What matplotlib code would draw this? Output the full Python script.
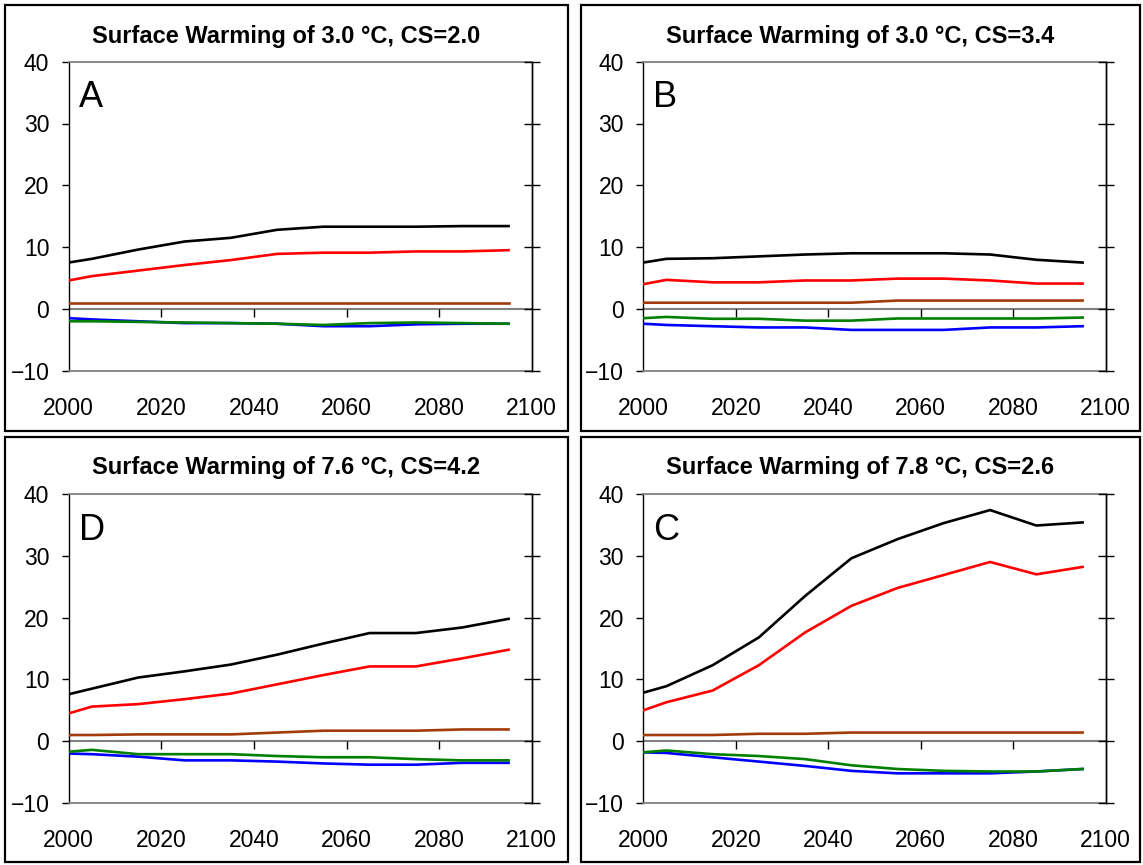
import matplotlib
matplotlib.use('Agg')
import matplotlib.pyplot as plt
from matplotlib.patches import Rectangle
import numpy as np

plt.rcParams['font.family'] = ['Liberation Sans', 'DejaVu Sans']

years = [2000, 2005, 2015, 2025, 2035, 2045, 2055, 2065, 2075, 2085, 2095]

# panel A: 3.0 C, CS=2.0
a_black = [7.5, 8.1, 9.6, 10.9, 11.5, 12.8, 13.3, 13.3, 13.3, 13.4, 13.4]
a_red = [4.6, 5.3, 6.2, 7.1, 7.9, 8.9, 9.1, 9.1, 9.3, 9.3, 9.5]
a_brown = [0.9, 0.9, 0.9, 0.9, 0.9, 0.9, 0.9, 0.9, 0.9, 0.9, 0.9]
a_blue = [-1.5, -1.7, -2.0, -2.3, -2.3, -2.4, -2.8, -2.8, -2.5, -2.4, -2.4]
a_green = [-2.0, -2.0, -2.1, -2.2, -2.3, -2.4, -2.6, -2.3, -2.2, -2.3, -2.4]

# panel B: 3.0 C, CS=3.4
b_black = [7.5, 8.1, 8.2, 8.5, 8.8, 9.0, 9.0, 9.0, 8.8, 7.95, 7.5]
b_red = [4.0, 4.7, 4.3, 4.3, 4.6, 4.6, 4.9, 4.9, 4.6, 4.1, 4.1]
b_brown = [1.0, 1.0, 1.0, 1.0, 1.0, 1.0, 1.35, 1.35, 1.35, 1.35, 1.35]
b_blue = [-2.4, -2.6, -2.8, -3.0, -3.0, -3.4, -3.4, -3.4, -3.0, -3.0, -2.8]
b_green = [-1.5, -1.3, -1.6, -1.6, -1.9, -1.9, -1.55, -1.55, -1.55, -1.55, -1.4]

# panel D: 7.6 C, CS=4.2
d_black = [7.6, 8.5, 10.3, 11.3, 12.4, 14.0, 15.8, 17.5, 17.5, 18.4, 19.8]
d_red = [4.5, 5.6, 6.0, 6.8, 7.7, 9.2, 10.7, 12.1, 12.1, 13.4, 14.8]
d_brown = [1.0, 1.0, 1.1, 1.1, 1.1, 1.4, 1.7, 1.7, 1.7, 1.9, 1.9]
d_blue = [-2.0, -2.1, -2.5, -3.1, -3.1, -3.3, -3.6, -3.8, -3.8, -3.5, -3.5]
d_green = [-1.7, -1.4, -2.1, -2.1, -2.1, -2.4, -2.6, -2.6, -2.9, -3.1, -3.1]

# panel C: 7.8 C, CS=2.6
c_black = [7.85, 8.9, 12.3, 16.8, 23.5, 29.6, 32.7, 35.3, 37.4, 34.9, 35.4]
c_red = [5.0, 6.3, 8.2, 12.3, 17.6, 21.9, 24.8, 26.9, 29.0, 27.0, 28.2]
c_brown = [1.0, 1.0, 1.0, 1.2, 1.2, 1.4, 1.4, 1.4, 1.4, 1.4, 1.4]
c_blue = [-1.8, -1.9, -2.6, -3.3, -4.0, -4.8, -5.2, -5.2, -5.2, -4.9, -4.5]
c_green = [-1.8, -1.5, -2.1, -2.4, -2.9, -3.9, -4.5, -4.8, -4.9, -4.9, -4.5]

titles = ['Surface Warming of 3.0 \u00b0C, CS=2.0', 'Surface Warming of 3.0 \u00b0C, CS=3.4',
          'Surface Warming of 7.6 \u00b0C, CS=4.2', 'Surface Warming of 7.8 \u00b0C, CS=2.6']
letters = ['A', 'B', 'D', 'C']
series = [(a_black, a_red, a_brown, a_blue, a_green),
          (b_black, b_red, b_brown, b_blue, b_green),
          (d_black, d_red, d_brown, d_blue, d_green),
          (c_black, c_red, c_brown, c_blue, c_green)]
colors = ['black', '#ff0000', '#a33a0a', '#0000ff', '#008000']

W, H = 1143, 865
fig = plt.figure(figsize=(W / 100, H / 100), dpi=100)

# pixel boxes (left, top, right, bottom) for frames and axes
frames = [(5, 5, 568, 431), (581, 5, 1140, 431), (5, 437, 568, 862), (581, 437, 1140, 862)]
axboxes = [(68.7, 61.7, 531.7, 370.7), (643.3, 61.7, 1105.7, 370.7),
           (68.7, 494, 531.7, 803), (643.3, 494, 1105.7, 803)]

for i in range(4):
    l, t, r, b = frames[i]
    fig.patches.append(Rectangle((l / W, 1 - b / H), (r - l) / W, (b - t) / H,
                                 transform=fig.transFigure, fill=False,
                                 edgecolor='black', linewidth=1.6))
    fig.text((l + r) / 2 / W, 1 - (t + 31) / H, titles[i], ha='center', va='center',
             fontsize=17, fontweight='bold')

    l, t, r, b = axboxes[i]
    ax = fig.add_axes([l / W, 1 - b / H, (r - l) / W, (b - t) / H])
    ax.set_xlim(2000, 2100)
    ax.set_ylim(-10, 40)

    ax.axhline(0, color='#808080', lw=1.5, zorder=1)
    for ys, c in zip(series[i], colors):
        ax.plot(years, ys, color=c, lw=1.9, zorder=3)

    # small tick marks hanging from the zero line
    ax.plot([2020, 2040, 2060, 2080], [0, 0, 0, 0], ls='none', marker=3,
            ms=6, mew=1, color='black', zorder=2)

    ax.text(0.022, 0.94, letters[i], transform=ax.transAxes, fontsize=26,
            ha='left', va='top')

    for s in ['top', 'bottom']:
        ax.spines[s].set_color('#808080')
        ax.spines[s].set_linewidth(1.3)
    ax.spines['left'].set_linewidth(1.0)
    ax.spines['right'].set_linewidth(1.0)

    ax.set_yticks([-10, 0, 10, 20, 30, 40])
    ax.set_xticks([2000, 2020, 2040, 2060, 2080, 2100])
    ax.tick_params(axis='y', which='both', left=True, right=False, direction='out',
                   length=5, width=1, labelsize=16.5, pad=9)
    ax.tick_params(axis='x', length=0, labelsize=16.5, pad=19)

    # right-hand ticks cross the spine
    ax2 = ax.twinx()
    ax2.set_ylim(-10, 40)
    ax2.set_yticks([-10, 0, 10, 20, 30, 40])
    ax2.tick_params(axis='y', direction='inout', length=11.5, width=1, labelright=False)
    for s in ['top', 'bottom', 'left']:
        ax2.spines[s].set_visible(False)
    ax2.spines['right'].set_linewidth(1.0)

fig.savefig('out.png', dpi=100)
